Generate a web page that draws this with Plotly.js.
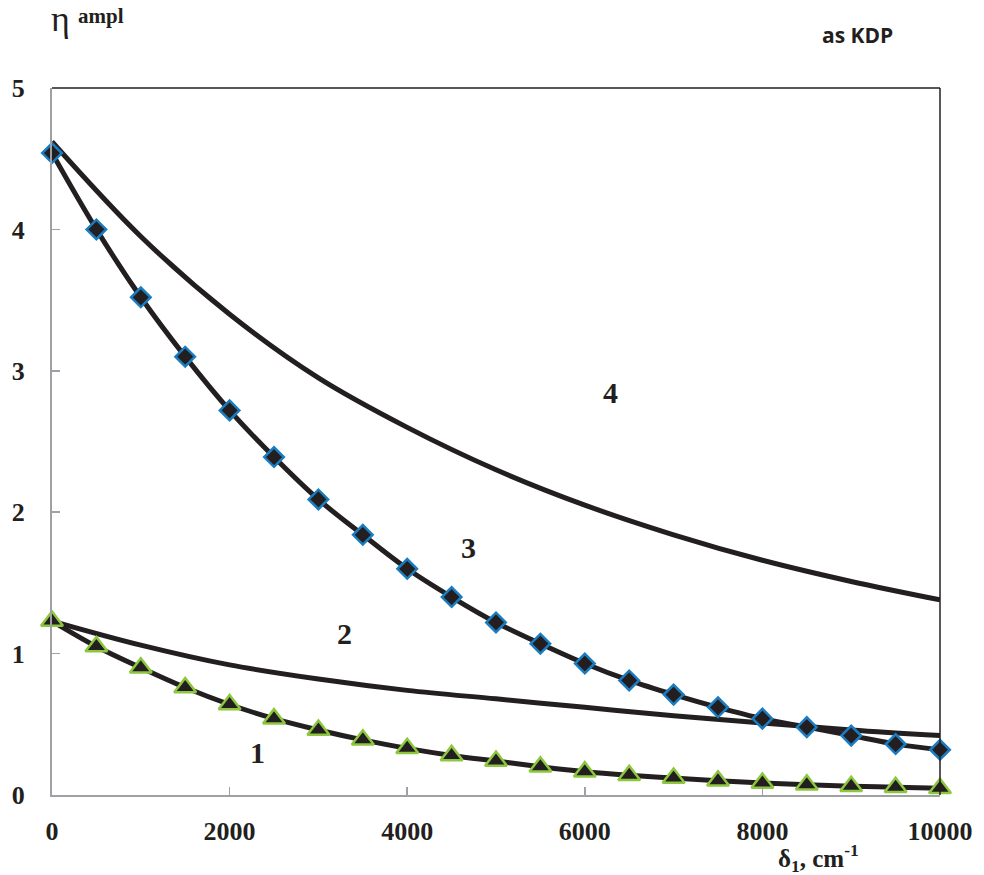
<!DOCTYPE html>
<html>
<head>
<meta charset="utf-8">
<script src="https://cdn.plot.ly/plotly-3.0.1.min.js"></script>
<style>html,body{margin:0;padding:0;background:#fff;}#chart{width:984px;height:875px;}</style>
</head>
<body>
<div id="chart"></div>
<script>
// x positions (cm^-1)
var xMarked = [0,500,1000,1500,2000,2500,3000,3500,4000,4500,5000,5500,6000,6500,7000,7500,8000,8500,9000,9500,10000];
var xLine = [0,1000,2000,3000,4000,5000,6000,7000,8000,9000,10000];
// curve 1 (triangles)
var curve1 = [1.23,1.05,0.90,0.76,0.64,0.54,0.46,0.39,0.33,0.28,0.24,0.20,0.165,0.14,0.12,0.10,0.085,0.072,0.062,0.055,0.047];
// curve 2 (line)
var curve2 = [1.23,1.06,0.92,0.82,0.74,0.68,0.62,0.56,0.51,0.46,0.42];
// curve 3 (diamonds)
var curve3 = [4.54,4.00,3.52,3.10,2.72,2.39,2.09,1.84,1.60,1.40,1.22,1.07,0.93,0.81,0.71,0.62,0.54,0.48,0.42,0.36,0.32];
// curve 4 (line)
var curve4 = [4.62,3.95,3.40,2.95,2.60,2.30,2.05,1.84,1.66,1.51,1.38];
var xTicks = [0,2000,4000,6000,8000,10000];
var yTicks = [0,1,2,3,4,5];
var curveLabels = ['1','2','3','4'];
var labelX = [2310,3290,4690,6290];
var labelY = [0.30,1.14,1.75,2.85];

var serif = 'Liberation Serif, Times New Roman, serif';
var ink = '#231f20';
var traces = [
  {x:xLine, y:curve4, mode:'lines', line:{color:ink, width:5, shape:'spline'}, cliponaxis:false},
  {x:xLine, y:curve2, mode:'lines', line:{color:ink, width:5, shape:'spline'}, cliponaxis:false},
  {x:xMarked, y:curve3, mode:'lines+markers', line:{color:ink, width:5, shape:'spline'},
   marker:{symbol:'diamond', size:15, color:ink, line:{color:'#1a7cc1', width:2.5}}, cliponaxis:false},
  {x:xMarked, y:curve1, mode:'lines+markers', line:{color:ink, width:5, shape:'spline'},
   marker:{symbol:'triangle-up', size:19, color:ink, line:{color:'#8dc63f', width:2.5}}, cliponaxis:false}
];

var annotations = [];
for (var i=0;i<curveLabels.length;i++){
  annotations.push({x:labelX[i], y:labelY[i], xref:'x', yref:'y', text:'<b>'+curveLabels[i]+'</b>', showarrow:false,
    font:{family:serif, size:30, color:ink}});
}
annotations.push({x:60, y:19, xref:'pixel', yref:'pixel', text:'η', showarrow:false, font:{family:serif, size:36, color:ink}});
annotations.push({x:101, y:16, xref:'pixel', yref:'pixel', text:'<b>ampl</b>', showarrow:false, font:{family:serif, size:21, color:ink}});
annotations.push({x:857, y:35, xref:'pixel', yref:'pixel', text:'<b>as KDP</b>', showarrow:false, font:{family:'Open Sans, sans-serif', size:21, color:ink}});
annotations.push({x:818, y:858, xref:'pixel', yref:'pixel', text:'<b>δ<sub>1</sub>, cm<sup>-1</sup></b>', showarrow:false, font:{family:serif, size:25, color:ink}});

// convert pixel refs to paper coords
var W=984, H=875, ml=52, mr=44, mt=88, mb=80;
var pw=W-ml-mr, ph=H-mt-mb;
annotations.forEach(function(a){
  if(a.xref==='pixel'){ a.x=(a.x-ml)/pw; a.xref='paper'; a.xanchor='center'; }
  if(a.yref==='pixel'){ a.y=(H-mb-a.y)/ph; a.yref='paper'; a.yanchor='middle'; }
});

var tickFont = {family:serif, size:26, color:ink, weight:'bold'};
var layout = {
  width:W, height:H, margin:{l:ml, r:mr, t:mt, b:mb},
  paper_bgcolor:'#fff', plot_bgcolor:'#fff', showlegend:false,
  xaxis:{range:[0,10000], tickvals:xTicks, ticktext:xTicks.map(String), ticks:'inside', ticklen:8, tickwidth:1.5, tickcolor:'#a0a0a4',
    showline:true, linecolor:'#a0a0a4', linewidth:2, showgrid:false, zeroline:false, ticklabelstandoff:12, tickfont:tickFont},
  yaxis:{range:[0,5], tickvals:yTicks, ticktext:yTicks.map(String), ticks:'inside', ticklen:8, tickwidth:1.5, tickcolor:'#a0a0a4',
    showline:true, linecolor:'#a0a0a4', linewidth:2, showgrid:false, zeroline:false, ticklabelstandoff:20, tickfont:tickFont},
  shapes:[
    {type:'line', xref:'paper', yref:'paper', x0:0, x1:1, y0:1, y1:1, line:{color:ink, width:1.5}},
    {type:'line', xref:'paper', yref:'paper', x0:1, x1:1, y0:0, y1:1, line:{color:ink, width:1.5}}
  ],
  annotations:annotations
};
Plotly.newPlot('chart', traces, layout, {staticPlot:true});
</script>
</body>
</html>
